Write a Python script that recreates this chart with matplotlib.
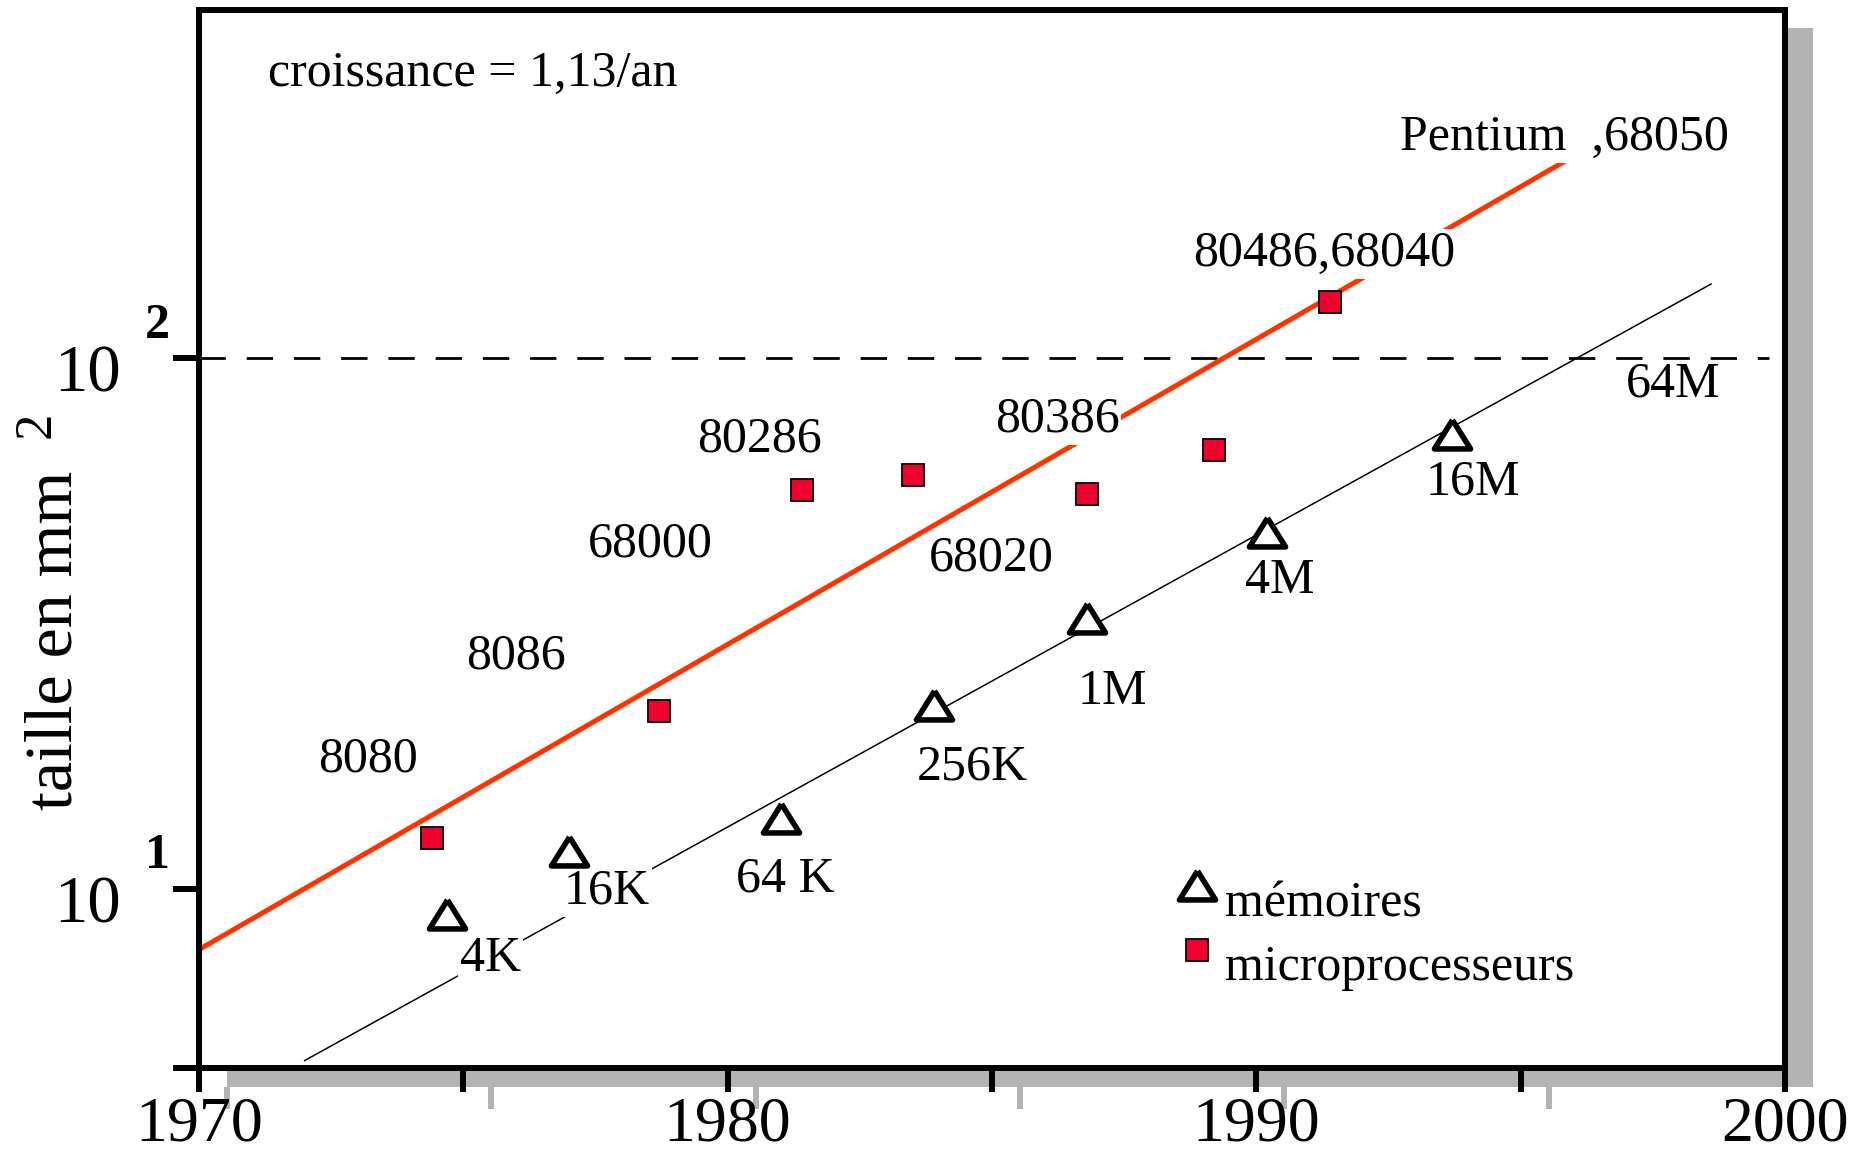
import numpy as np
import matplotlib
matplotlib.use("Agg")
import matplotlib.pyplot as plt
from matplotlib.lines import Line2D
from matplotlib.markers import MarkerStyle
from matplotlib.ticker import NullLocator
from matplotlib.legend_handler import HandlerLine2D

# ---------------- data ----------------
mem_years = [1974.7, 1977.0, 1981.0, 1983.9, 1986.8, 1990.2, 1993.7]
mem_sizes = [9.0, 11.8, 13.6, 22.2, 32.4, 47.1, 72.1]
mem_labels = ["4K", "16K", "64 K", "256K", "1M", "4M", "16M", "64M"]

cpu_years = [1974.4, 1978.7, 1981.4, 1983.5, 1986.8, 1989.2, 1991.4]
cpu_sizes = [12.5, 21.7, 56.4, 60.3, 55.5, 67.1, 127.8]
cpu_labels = ["8080", "8086", "68000", "80286", "68020", "80386",
              "80486,68040", "Pentium  ,68050"]

# trend lines (end points)
cpu_fit_years = [1970.0, 1996.3]
cpu_fit_sizes = [7.7, 250.0]
mem_fit_years = [1972.0, 1998.6]
mem_fit_sizes = [4.76, 138.0]

ref_size = 100.0
x_ticks = [1970, 1975, 1980, 1985, 1990, 1995, 2000]
x_ticklabels = ["1970", "", "1980", "", "1990", "", "2000"]
growth_text = "croissance = 1,13/an"
legend_labels = ["mémoires", "microprocesseurs"]

# label anchor positions (year, size at text baseline)
cpu_label_pos = [(1973.20, 16.7), (1975.99, 26.0), (1978.54, 42.3),
                 (1980.60, 66.8), (1984.98, 39.8), (1986.23, 72.8),
                 (1991.28, 149.0), (1995.82, 247.0)]
mem_label_pos = [(1975.52, 7.03), (1977.71, 9.40), (1981.09, 9.90),
                 (1984.62, 16.1), (1987.28, 22.3), (1990.45, 36.1),
                 (1994.10, 55.5), (1997.88, 84.9)]

# ---------------- style ----------------
plt.rcParams["font.family"] = ["Liberation Serif", "DejaVu Serif"]
W, H, DPI = 1852, 1169, 100
RED_LINE = "#FF3300"
RED_SQ = "#F2002E"
GRAY = "#B3B3B3"
LW_SPINE = 4.3

fig = plt.figure(figsize=(W / DPI, H / DPI), dpi=DPI)
fig.patch.set_facecolor("white")

left, right, top, bottom = 199, 1785, 9.5, 1068
ax_pos = [left / W, 1 - bottom / H, (right - left) / W, (bottom - top) / H]
dx, dy = 28, 19

# shadow axes
sh = fig.add_axes([ax_pos[0] + dx / W, ax_pos[1] - dy / H, ax_pos[2], ax_pos[3]])
sh.set_facecolor(GRAY)
for s in sh.spines.values():
    s.set_visible(False)
sh.set_xlim(1970, 2000)
sh.set_xticks(x_ticks[:-1])
sh.set_xticklabels([])
sh.set_yticks([])
sh.tick_params(axis="x", direction="out", length=16, width=LW_SPINE, color=GRAY)
sh.set_zorder(0)

ax = fig.add_axes(ax_pos)
ax.set_zorder(1)
ax.set_facecolor("white")
ax.set_yscale("log")
ax.set_xlim(1970, 2000)
ax.set_ylim(10 ** 0.6635, 10 ** 2.657)

for s in ax.spines.values():
    s.set_linewidth(LW_SPINE)
    s.set_color("black")

ax.set_xticks(x_ticks)
ax.set_xticklabels(x_ticklabels, fontsize=46)
ax.tick_params(axis="x", direction="out", length=17.5, width=LW_SPINE, pad=3)
ax.xaxis.set_minor_locator(NullLocator())
ax.set_yticks([10 ** 0.6635, 10, 100])
ax.set_yticklabels([])
ax.yaxis.set_minor_locator(NullLocator())
ax.tick_params(axis="y", direction="out", length=18.5, width=LW_SPINE)

# y tick labels as 10 with superscript
for val, exp in [(10, "1"), (100, "2")]:
    ax.annotate("10", xy=(0, val), xycoords=("axes fraction", "data"),
                xytext=(-80, -24), textcoords="offset points",
                ha="center", va="baseline", fontsize=48, annotation_clip=False)
    ax.annotate(exp, xy=(0, val), xycoords=("axes fraction", "data"),
                xytext=(-30, 15), textcoords="offset points",
                ha="center", va="baseline", fontsize=36, fontweight="bold",
                annotation_clip=False)

# y label
fig.text(72 / W, 1 - 810 / H, "taille en mm", rotation=90, rotation_mode="anchor",
         ha="left", va="baseline", fontsize=49)
fig.text(50 / W, 1 - 425 / H, "2", rotation=90, rotation_mode="anchor",
         ha="center", va="baseline", fontsize=38)

# reference dashed line
ax.axhline(ref_size, xmin=0, xmax=0.99, color="black", lw=2.0,
           dashes=(9.5, 7.5), zorder=2)

# trend lines
ax.plot(cpu_fit_years, cpu_fit_sizes, color=RED_LINE, lw=3.6, zorder=2,
        solid_capstyle="butt")
ax.plot(mem_fit_years, mem_fit_sizes, color="black", lw=1.1, zorder=2)

TRI_MS, TRI_MEW = 26, 4.0
SQ_MS, SQ_MEW = 15.5, 1.3
tri = MarkerStyle([(0, 0.8), (-1, -0.8), (1, -0.8), (0, 0.8)], joinstyle="miter")
ax.plot(mem_years, mem_sizes, ls="none", marker=tri, ms=TRI_MS, mfc="white",
        mec="black", mew=TRI_MEW, zorder=5, clip_on=False)
ax.plot(cpu_years, cpu_sizes, ls="none", marker="s", ms=SQ_MS, mfc=RED_SQ,
        mec="black", mew=SQ_MEW, zorder=5, clip_on=False)

box = dict(facecolor="white", edgecolor="none", pad=1.5)
for lab, (x, y) in zip(cpu_labels, cpu_label_pos):
    ax.text(x, y, lab, ha="center", va="baseline", fontsize=36, bbox=box, zorder=3)
for lab, (x, y) in zip(mem_labels, mem_label_pos):
    ax.text(x, y, lab, ha="center", va="baseline", fontsize=36,
            bbox=None if lab == "64M" else box, zorder=3)

ax.text(0.0432, 0.9276, growth_text, transform=ax.transAxes, ha="left",
        va="baseline", fontsize=36, zorder=3)


class RaisedHandler(HandlerLine2D):
    """Legend marker drawn a little above the text centre, as in the original."""
    def __init__(self, raise_pts, **kw):
        super().__init__(**kw)
        self.raise_pts = raise_pts

    def create_artists(self, legend, orig_handle, xdescent, ydescent, width,
                       height, fontsize, trans):
        return super().create_artists(legend, orig_handle, xdescent,
                                      ydescent - 2 * self.raise_pts, width,
                                      height, fontsize, trans)


h_mem = Line2D([], [], ls="none", marker=tri, ms=TRI_MS, mfc="white", mec="black", mew=TRI_MEW)
h_cpu = Line2D([], [], ls="none", marker="s", ms=SQ_MS, mfc=RED_SQ, mec="black", mew=SQ_MEW)
ax.legend([h_mem, h_cpu], legend_labels, loc="upper left", bbox_to_anchor=(0.615, 0.177),
          frameon=False, fontsize=36, handlelength=0.9, handletextpad=0.12,
          labelspacing=0.34, borderpad=0, borderaxespad=0,
          handler_map={h_mem: RaisedHandler(10), h_cpu: RaisedHandler(9)})

fig.savefig("out.png", dpi=DPI, facecolor="white")
